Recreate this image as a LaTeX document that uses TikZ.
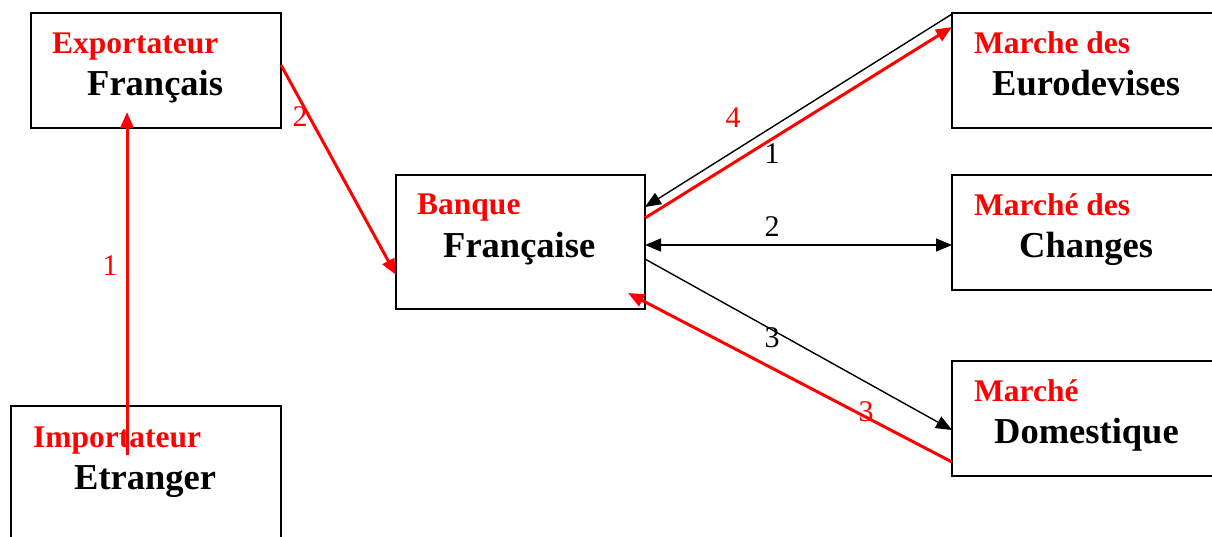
\documentclass[tikz,border=0pt]{standalone}
\usepackage{fontspec}
\setmainfont{Liberation Serif}
\usetikzlibrary{arrows.meta,calc}
\definecolor{flux}{RGB}{255,0,0}
\tikzset{
  box/.style={draw=black, line width=2pt, rectangle, inner sep=0pt, outer sep=0pt},
  role/.style={anchor=base west, inner sep=0pt, text=flux, font=\bfseries\fontsize{31.5pt}{34pt}\selectfont},
  actor/.style={anchor=base west, inner sep=0pt, text=black, font=\bfseries\fontsize{36.5pt}{40pt}\selectfont},
  num/.style={inner sep=0pt, font=\fontsize{30pt}{32pt}\selectfont},
  tip/.style={-{Triangle[length=16pt,width=13pt]}},
  blackflow/.style={draw=black, line width=1.4pt, tip},
  redflow/.style={draw=flux, line width=3pt, tip}
}
\begin{document}
\begin{tikzpicture}[x=1pt,y=-1pt]
\useasboundingbox (0,0) rectangle (1212,536);
\fill[white] (0,0) rectangle (1212,536);

% boxes
\node[box, minimum width=250pt, minimum height=115pt] (exp) at (156,70.5) {};
\node[box, minimum width=270pt, minimum height=154pt] (imp) at (146,483) {};
\node[box, minimum width=249pt, minimum height=134pt] (ban) at (520.5,242) {};
\node[box, minimum width=280pt, minimum height=115pt] (euro) at (1092,70.5) {};
\node[box, minimum width=280pt, minimum height=115pt] (chg) at (1092,232.5) {};
\node[box, minimum width=280pt, minimum height=115pt] (dom) at (1092,418.5) {};

% box texts
\node[role] (t1) at (52,53) {Exportateur};
\node[actor] (t2) at (87,95) {Français};
\node[role] (t3) at (33,447) {Importateur};
\node[actor] (t4) at (74,489) {Etranger};
\node[role] (t5) at (417,214) {Banque};
\node[actor] (t6) at (443,257) {Française};
\node[role] (t7) at (974,53) {Marche des};
\node[actor] (t8) at (992,95) {Eurodevises};
\node[role] (t9) at (974,215) {Marché des};
\node[actor] (t10) at (1019,257) {Changes};
\node[role] (t11) at (974,401) {Marché};
\node[actor] (t12) at (994,443) {Domestique};

% flows of the exporter side
\draw[redflow] ($(imp.north west)+(116,49)$) -- ($(exp.south west)+(96,-16)$);
\draw[redflow] ($(exp.north east)+(0,52)$) -- ($(ban.north west)+(0,100)$);

% flows of the bank side
\draw[blackflow] ($(euro.north west)+(0,1)$) -- ($(ban.north east)+(0,32)$);
\draw[redflow] ($(ban.north east)+(0,43)$) -- ($(euro.north west)+(0,14)$);
\draw[blackflow, {Triangle[length=16pt,width=13pt]}-{Triangle[length=16pt,width=13pt]}] ($(ban.north east)+(0,70)$) -- ($(chg.north west)+(0,70)$);
\draw[blackflow] ($(ban.north east)+(0,84)$) -- ($(dom.north west)+(0,69)$);
\draw[redflow] ($(dom.north west)+(0,101)$) -- ($(ban.south east)+(-17,-16)$);

% step numbers
\node[num, text=flux] (n1) at (110,266) {1};
\node[num, text=flux] (n2) at (300,117) {2};
\node[num, text=flux] (n4) at (733,118) {4};
\node[num] (m1) at (772,154) {1};
\node[num] (m2) at (772,227) {2};
\node[num] (m3) at (772,338) {3};
\node[num, text=flux] (n3) at (866,412) {3};
\end{tikzpicture}
\end{document}
